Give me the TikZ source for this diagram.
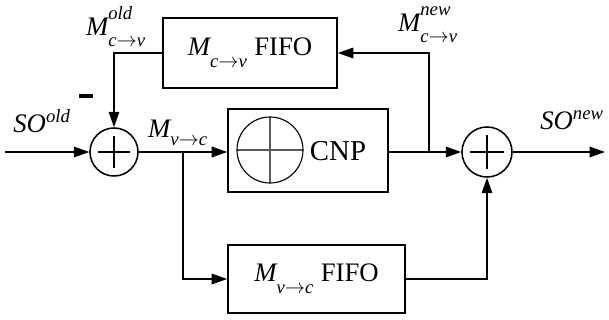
\documentclass[tikz,border=0pt]{standalone}
\usepackage{amsmath}
\usepackage{fontspec}
\setmainfont{Liberation Serif}
\usetikzlibrary{arrows.meta,positioning}
\newcommand{\itx}[1]{\text{\itshape #1}}
\newcommand{\scr}[2]{\text{\raisebox{#1}{\itshape #2}}}

\begin{document}
\begin{tikzpicture}[
  x=0.025cm, y=-0.025cm,
  font=\fontsize{19}{21}\selectfont,
  arrow/.style={-{Triangle[length=11pt,width=7.5pt]}, line width=1.1pt},
  blk/.style={draw, line width=1.1pt, inner sep=0pt},
  sum/.style={draw, circle, line width=1.1pt, inner sep=0pt,
    path picture={
      \draw[line width=1.1pt] ([xshift=6pt]path picture bounding box.west) -- ([xshift=-6pt]path picture bounding box.east);
      \draw[line width=1.1pt] ([yshift=-6pt]path picture bounding box.north) -- ([yshift=6pt]path picture bounding box.south);
    }},
  xorsym/.style={draw, circle, line width=0.8pt, inner sep=0pt, minimum size=1.65cm,
    path picture={
      \draw[gray!70!black, line width=0.8pt] (path picture bounding box.west) -- (path picture bounding box.east);
      \draw[gray!70!black, line width=0.8pt] (path picture bounding box.north) -- (path picture bounding box.south);
    }},
  note/.style={inner sep=1pt}
]
\useasboundingbox (0,0) rectangle (609,320);

% blocks
\node[blk, minimum width=4.35cm, minimum height=1.75cm] (fifoc) at (250,53)
  {$\itx{M}_{\scr{-6pt}{c$\rightarrow$v}}$ FIFO};
\node[blk, minimum width=4cm, minimum height=2.075cm] (cnp) at (308,150.5) {};
\node[xorsym] (xor) at (270,150) {};
\node[note, font=\fontsize{20.5}{22}\selectfont] (cnplab) at (338,151) {CNP};
\node[blk, minimum width=4.425cm, minimum height=1.7cm] (fifov) at (316.5,279)
  {$\itx{M}_{\scr{-6pt}{v$\rightarrow$c}}$ FIFO};

\node[sum, minimum size=1.2cm] (sl) at (114,152) {};
\node[sum, minimum size=1.25cm] (sr) at (487,152) {};

% free ends and branch points
\coordinate (in) at (5,152);
\coordinate (out) at (605,152);
\coordinate (bl) at (183,152);
\coordinate (br) at (429,152);

% connectors
\draw[arrow] (in) -- (sl.west);
\draw[arrow] (sl.east) -- (sl.east -| cnp.west);
\draw[arrow] (bl) |- (fifov.west);
\draw[arrow] (fifov.east) -| (sr.south);
\draw[arrow] (cnp.east |- sr.west) -- (sr.west);
\draw[arrow] (br) |- (fifoc.east);
\draw[arrow] (fifoc.west) -| (sl.north);
\draw[arrow] (sr.east) -- (out);

% labels
\node[note] (soold) at (42,121) {$\itx{SO}^{\itx{old}}$};
\node[note] (sonew) at (572,120) {$\itx{SO}^{\itx{new}}$};
\node[note] (mold) at (116,27) {$\itx{M}_{\scr{-4pt}{c$\rightarrow$v}}^{\scr{4pt}{old}}$};
\node[note] (mnew) at (428,25) {$\itx{M}_{\scr{-4pt}{c$\rightarrow$v}}^{\scr{4pt}{new}}$};
\node[note] (mvc) at (178,133) {$\itx{M}_{\scr{-3pt}{v$\rightarrow$c}}$};
\node[note] (minus) at (86,96) {\rule{10pt}{3pt}};
\end{tikzpicture}
\end{document}
